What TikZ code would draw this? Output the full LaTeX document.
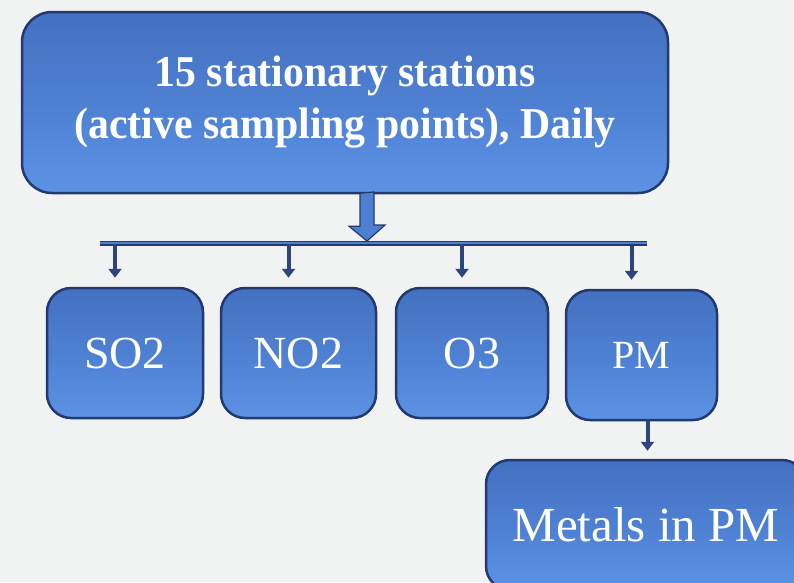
\documentclass[tikz,border=0pt]{standalone}
\usepackage{fontspec}
\setmainfont{Liberation Serif}
\usetikzlibrary{arrows.meta,calc}
\definecolor{boxtop}{RGB}{68,112,192}
\definecolor{boxmid}{RGB}{78,128,210}
\definecolor{boxbot}{RGB}{92,146,228}
\definecolor{boxline}{RGB}{36,58,110}
\definecolor{feedcol}{RGB}{44,70,124}
\definecolor{paper}{RGB}{241,243,242}

\begin{document}
\begin{tikzpicture}[x=1pt, y=1pt,
  box/.style={draw=boxline, line width=2.5pt, rounded corners=24pt,
    top color=boxtop, bottom color=boxbot, middle color=boxmid,
    text=white, inner sep=0pt, align=center},
  gas/.style={box, minimum height=130pt, font=\fontsize{46}{50}\selectfont},
  feed/.style={draw=feedcol, line width=4pt, -{Triangle[width=13pt,length=9pt]}}]
  % page
  \fill[paper] (0,0) rectangle (794,-582);
  \useasboundingbox (0,0) rectangle (794,-582);
  % stations
  \node[box, minimum width=646pt, minimum height=181pt, rounded corners=30pt,
    font=\fontsize{44}{50}\selectfont\bfseries] (top) at (345,-102.5)
    {\scalebox{0.95}[1]{15 stationary stations}\\[2pt]\scalebox{0.95}[1]{(active sampling points), Daily}};
  % pollutants
  \node[gas, minimum width=156pt] (so2) at (125,-353) {SO2};
  \node[gas, minimum width=155pt] (no2) at (298.5,-353) {NO2};
  \node[gas, minimum width=152pt] (o3) at (472,-353) {O3};
  \node[gas, minimum width=151pt, font=\fontsize{40}{44}\selectfont] (pm) at (641.5,-355) {PM};
  \node[box, minimum width=320pt, minimum height=130pt,
    font=\fontsize{49}{50}\selectfont] (metals) at (646,-525) {Metals in PM};
  % splitter
  \coordinate (split) at (367,-241);
  \coordinate (barL) at (100,-243);
  \coordinate (barR) at (647,-243);
  \filldraw[fill=boxmid, draw=boxline, line width=1.2pt, line join=miter]
    ($(top.south -| split)+(-7,1)$) -- ++(0,-33) -- ++(-11,0) -- (split)
    -- ++(18,16) -- ++(-11,0) -- ++(0,33) -- cycle;
  \draw[boxline, line width=5pt] (barL) -- (barR);
  \draw[boxmid, line width=2pt] (barL) -- (barR);
  \foreach \n in {so2,no2,o3,pm}
    \draw[feed] ([xshift=-10pt,yshift=43pt]\n.north) -- ([xshift=-10pt,yshift=9pt]\n.north);
  \draw[feed] ($(pm.south)+(6,0)$) -- ($(pm.south |- metals.north)+(6,8)$);
\end{tikzpicture}
\end{document}
